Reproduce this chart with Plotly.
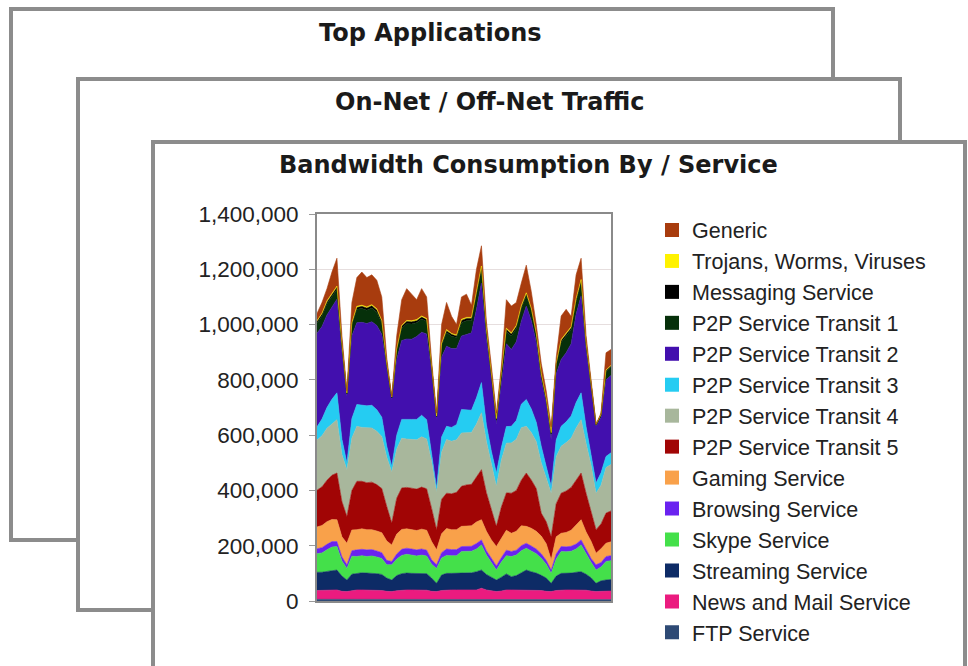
import plotly.graph_objects as go

# ---- data (thousands of units per sample) ----
samples = list(range(60))

ftp = [6,6,6,6,6,5,5, 6,6,6,6,6,6,6,5,5, 6,6,6,6,6,6,6,5,5, 6,6,6,6,6,6,6,6,6,6,5,5, 5,6,6,6,6,6,6,6,6,5,5, 6,6,6,6,6,6,6,5,5, 5,5,5]
news_mail = [32,32,33,34,34,30,29, 31,34,34,34,33,33,32,30,29, 31,33,34,34,33,33,33,30,29, 32,34,34,34,34,34,34,34,40,34,32,29, 31,34,34,34,34,34,34,33,32,30,29, 32,34,34,34,34,34,33,31,29, 30,31,31]
streaming = [66,66,68,70,72,55,42, 60,60,62,61,62,60,58,48,42, 55,60,61,60,60,61,60,48,30, 56,60,60,60,60,62,62,66,66,56,48,42, 50,58,48,52,62,72,66,62,55,48,30, 52,60,60,61,64,66,58,48,30, 38,40,42]
skype = [67,70,78,85,85,55,42, 65,61,62,60,62,60,58,48,55, 60,66,68,66,64,66,64,50,54, 62,65,64,64,79,78,78,82,91,70,56,36, 55,66,73,74,80,79,75,70,62,50,36, 62,79,78,79,84,97,72,56,48, 50,67,68]
browsing = [18,19,20,20,18,15,13, 20,24,23,24,23,22,21,16,12, 18,22,22,22,22,22,21,16,13, 19,23,22,22,18,18,18,20,18,16,14,15, 16,20,18,18,18,18,18,17,16,14,12, 18,18,18,18,18,18,16,14,19, 16,18,18]
gaming = [79,80,82,80,79,72,78, 75,73,74,73,72,72,72,70,60, 72,72,70,70,70,72,72,66,54, 68,74,72,72,73,74,74,78,73,70,66,70, 68,72,66,68,72,61,64,64,64,60,37, 62,48,52,58,70,73,65,62,42, 50,48,50]
transit5 = [133,140,150,160,169,128,97, 143,175,172,170,172,168,160,125,79, 130,150,150,151,150,152,150,120,73, 125,128,130,135,145,148,150,162,181,140,110,73, 115,135,145,148,165,193,175,155,83,80,84, 120,145,150,155,162,169,140,110,85, 90,109,112]
transit4 = [181,185,188,185,193,170,169, 190,199,195,200,196,193,188,178,185, 178,180,175,176,178,182,180,170,136, 170,194,190,190,193,190,188,192,206,185,170,145, 170,180,182,185,190,169,172,170,182,160,157, 170,170,175,178,188,193,180,165,132, 140,165,168]
transit3 = [48,60,75,90,97,55,24, 70,79,80,78,82,78,70,40,20, 50,68,70,72,74,78,70,35,15, 55,48,50,55,85,82,80,95,109,60,40,48, 45,60,60,68,85,97,85,70,60,40,25, 60,72,75,80,92,97,60,40,37, 45,40,42]
transit2 = [339,335,335,335,339,315,242, 300,296,300,298,302,305,300,280,242, 275,285,292,290,300,300,310,290,247, 290,290,285,275,266,272,280,320,360,310,270,177, 240,300,278,285,300,338,320,290,240,230,169, 240,242,250,262,320,351,280,240,205, 200,277,280]
transit1 = [36,38,40,38,36,25,8, 38,48,50,48,50,48,40,15,6, 30,45,55,55,50,48,45,15,10, 40,49,45,40,48,50,45,50,50,30,15,15, 25,45,49,48,45,37,35,25,18,12,20, 30,61,58,50,45,48,20,12,5, 8,30,30]
messaging = [6,7,7,8,7,5,2, 6,7,8,8,8,8,7,3,2, 5,7,8,8,7,7,7,3,2, 6,7,7,6,8,8,7,8,8,5,3,3, 4,7,7,7,7,7,6,4,3,2,3, 5,7,7,7,7,7,3,2,1, 2,4,4]
trojans = [3,3,4,4,4,2,1, 3,4,4,4,4,4,3,2,1, 2,3,4,4,4,4,4,2,1, 3,4,3,3,4,4,4,4,4,3,2,2, 2,4,4,4,4,4,3,2,2,1,2, 3,4,4,4,4,4,2,1,1, 1,2,2]
generic = [26,39,44,75,101,28,8, 73,104,120,106,108,103,85,20,2, 48,93,115,96,72,99,78,20,11, 68,98,62,38,81,84,44,83,73,25,19,20, 24,103,97,83,82,100,61,32,37,28,21, 20,85,88,38,86,77,25,14,1, 5,62,58]

series_names = ["FTP Service", "News and Mail Service", "Streaming Service", "Skype Service",
                "Browsing Service", "Gaming Service", "P2P Service Transit 5", "P2P Service Transit 4",
                "P2P Service Transit 3", "P2P Service Transit 2", "P2P Service Transit 1",
                "Messaging Service", "Trojans, Worms, Viruses", "Generic"]
series_values = [ftp, news_mail, streaming, skype, browsing, gaming, transit5, transit4,
                 transit3, transit2, transit1, messaging, trojans, generic]
series_colors = ["#2E4A75", "#EB1B7F", "#0D2B66", "#44E04A", "#6A22F0", "#F9A14A", "#A10505",
                 "#A8B79C", "#25CCF2", "#420FAE", "#06300A", "#000000", "#FFF200", "#A83C0E"]

y_ticks = [0, 200000, 400000, 600000, 800000, 1000000, 1200000, 1400000]
panel_titles = ["Top Applications", "On-Net / Off-Net Traffic", "Bandwidth Consumption By / Service"]

W, H = 968, 666
def px(x):
    return x / W
def py(y):
    return 1 - y / H

fig = go.Figure()

for name, vals, col in zip(series_names, series_values, series_colors):
    fig.add_trace(go.Scatter(
        x=samples, y=[v * 1000 for v in vals], name=name, stackgroup="one",
        mode="lines", line=dict(width=0.6, color=col), fillcolor=col,
        showlegend=False, hoverinfo="skip"))

# legend entries (top = Generic)
for name, col in reversed(list(zip(series_names, series_colors))):
    fig.add_trace(go.Scatter(
        x=[None], y=[None], mode="markers", name=name,
        marker=dict(symbol="square", size=14, color=col), showlegend=True))

panel_boxes = [(11, 9, 833, 540), (78, 79, 900, 610), (153, 142, 965, 700)]
shapes = []
for (x0, y0, x1, y1) in panel_boxes:
    shapes.append(dict(type="rect", xref="paper", yref="paper",
                       x0=px(x0), x1=px(x1), y0=py(y1), y1=py(y0),
                       line=dict(color="#8c8c8c", width=4), fillcolor="white", layer="below"))

title_pos = [(430, 33), (490, 102), (528, 165)]
annotations = []
for t, (x, y) in zip(panel_titles, title_pos):
    annotations.append(dict(text="<b>%s</b>" % t, x=px(x), y=py(y), xref="paper", yref="paper",
                            xanchor="center", yanchor="middle", showarrow=False,
                            font=dict(family="DejaVu Sans", size=24, color="#1a1a1a")))

fig.update_layout(
    width=W, height=H, margin=dict(l=0, r=0, t=0, b=0, autoexpand=False),
    paper_bgcolor="white", plot_bgcolor="white",
    shapes=shapes, annotations=annotations,
    xaxis=dict(domain=[px(317), px(611)], range=[0, 59], showticklabels=False,
               showgrid=False, zeroline=False, showline=True, mirror=True,
               linecolor="#8a8a8a", linewidth=2, ticks="", automargin=False),
    yaxis=dict(domain=[py(601), py(214)], range=[0, 1400000], tickvals=y_ticks,
               tickformat=",d", showgrid=True, gridcolor="#e6dede", gridwidth=1,
               zeroline=False, showline=True, mirror=True, linecolor="#8a8a8a", linewidth=2,
               ticks="outside", ticklen=6, tickcolor="#9a9a9a", ticklabelstandoff=6,
               automargin=False,
               tickfont=dict(family="Liberation Sans, Arial", size=22.5, color="#222222")),
    legend=dict(x=px(652), y=py(209.5), xanchor="left", yanchor="top",
                font=dict(family="Liberation Sans, Arial", size=21.5, color="#222222"),
                bgcolor="rgba(0,0,0,0)", traceorder="normal", tracegroupgap=0),
    showlegend=True,
)

fig.write_html("out.html", include_plotlyjs=True, config={"displayModeBar": False})
